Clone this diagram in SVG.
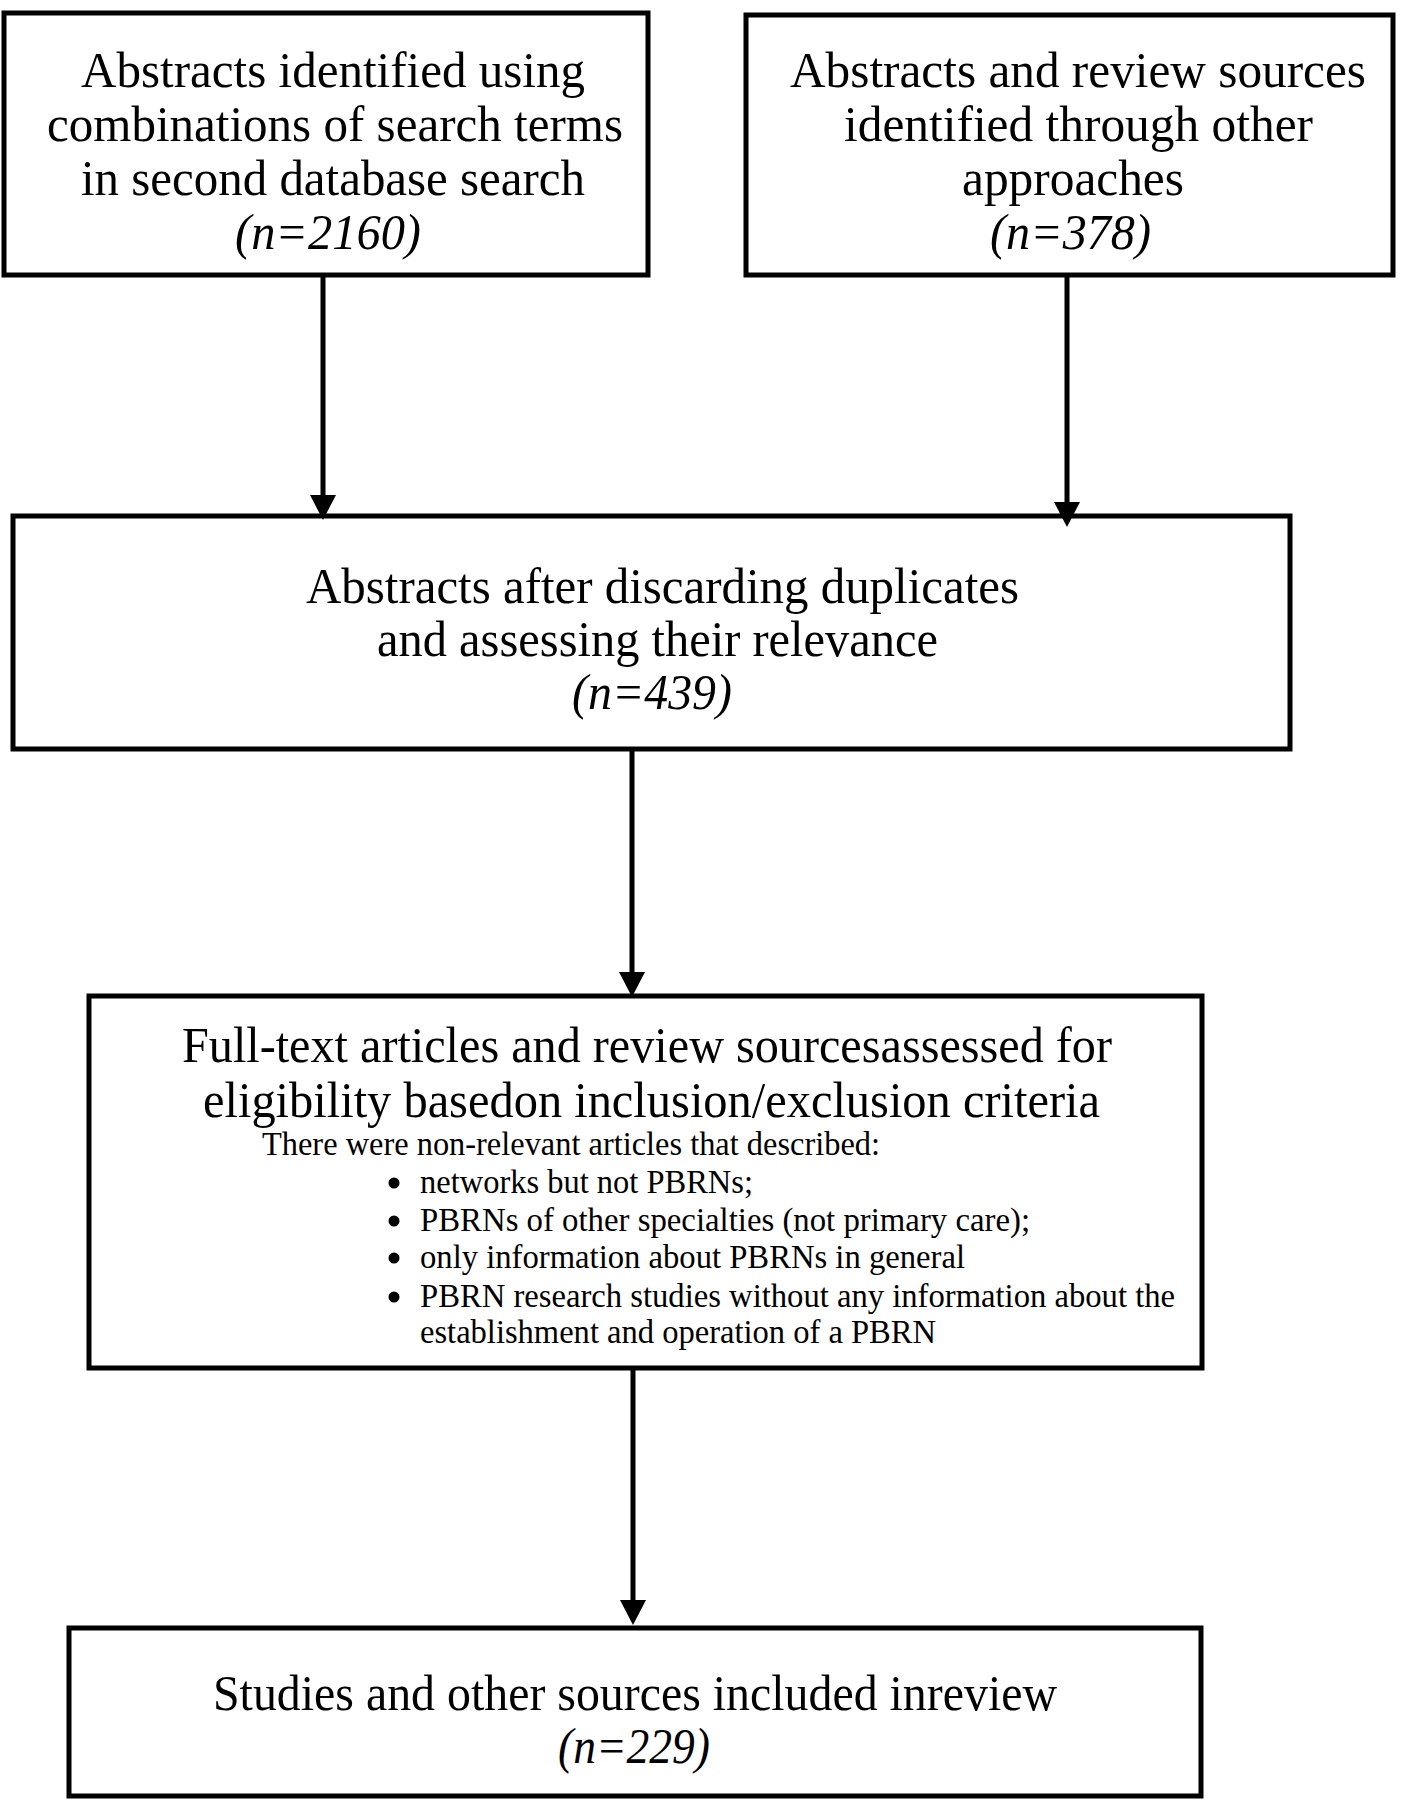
<svg xmlns="http://www.w3.org/2000/svg" width="1406" height="1800" viewBox="0 0 1406 1800">
<style>
.box{fill:#fff;stroke:#000;stroke-width:5}
.t{font-family:"Liberation Serif","Times New Roman",serif;font-size:50px;fill:#000}
.i{font-family:"Liberation Serif","Times New Roman",serif;font-size:50px;font-style:italic;fill:#000}
.s{font-family:"Liberation Serif","Times New Roman",serif;font-size:33px;fill:#000}
.ln{stroke:#000;stroke-width:5;fill:none}
</style>
<defs>
<polygon id="head" points="-13,0 13,0 0,25" fill="#000"/>
</defs>
<rect width="1406" height="1800" fill="#fff"/>
<g id="n1">
<rect class="box" x="4" y="13" width="644" height="262"/>
<text class="t" x="81" y="87" textLength="504" lengthAdjust="spacingAndGlyphs">Abstracts identified using</text>
<text class="t" x="47" y="141" textLength="576" lengthAdjust="spacingAndGlyphs">combinations of search terms</text>
<text class="t" x="81" y="195" textLength="504" lengthAdjust="spacingAndGlyphs">in second database search</text>
<text class="i" x="235" y="249" textLength="186" lengthAdjust="spacingAndGlyphs">(n=2160)</text>
</g>
<g id="n2">
<rect class="box" x="746" y="15" width="647" height="260"/>
<text class="t" x="790" y="87" textLength="576" lengthAdjust="spacingAndGlyphs">Abstracts and review  sources</text>
<text class="t" x="844" y="141" textLength="469" lengthAdjust="spacingAndGlyphs">identified  through other</text>
<text class="t" x="962" y="195" textLength="222" lengthAdjust="spacingAndGlyphs">approaches</text>
<text class="i" x="990" y="249" textLength="161" lengthAdjust="spacingAndGlyphs">(n=378)</text>
</g>
<g id="n3">
<rect class="box" x="13" y="516" width="1277" height="233"/>
<text class="t" x="306" y="603" textLength="713" lengthAdjust="spacingAndGlyphs">Abstracts after discarding duplicates</text>
<text class="t" x="377" y="656" textLength="561" lengthAdjust="spacingAndGlyphs">and assessing their relevance</text>
<text class="i" x="572" y="709" textLength="160" lengthAdjust="spacingAndGlyphs">(n=439)</text>
</g>
<g id="n4">
<rect class="box" x="89" y="996" width="1113" height="372"/>
<text class="t" x="182" y="1062" textLength="930" lengthAdjust="spacingAndGlyphs">Full-text articles and review  sourcesassessed for</text>
<text class="t" x="203" y="1117" textLength="897" lengthAdjust="spacingAndGlyphs">eligibility  basedon inclusion/exclusion criteria</text>
<text class="s" x="262" y="1155" textLength="618" lengthAdjust="spacingAndGlyphs">There were non-relevant articles that described:</text>
<circle cx="394" cy="1183" r="5.5"/>
<circle cx="394" cy="1221" r="5.5"/>
<circle cx="394" cy="1258" r="5.5"/>
<circle cx="394" cy="1297" r="5.5"/>
<text class="s" x="420" y="1193" textLength="333" lengthAdjust="spacingAndGlyphs">networks but not PBRNs;</text>
<text class="s" x="420" y="1231" textLength="610" lengthAdjust="spacingAndGlyphs">PBRNs of other specialties (not primary care);</text>
<text class="s" x="420" y="1268" textLength="545" lengthAdjust="spacingAndGlyphs">only information about PBRNs in general</text>
<text class="s" x="420" y="1307" textLength="755" lengthAdjust="spacingAndGlyphs">PBRN research studies without any information about the</text>
<text class="s" x="420" y="1343" textLength="516" lengthAdjust="spacingAndGlyphs">establishment and operation of a PBRN</text>
</g>
<g id="n5">
<rect class="box" x="69" y="1628" width="1132" height="168"/>
<text class="t" x="213" y="1710" textLength="844" lengthAdjust="spacingAndGlyphs">Studies and other sources included inreview</text>
<text class="i" x="558" y="1763" textLength="152" lengthAdjust="spacingAndGlyphs">(n=229)</text>
</g>
<g id="connectors">
<line class="ln" x1="323" y1="275" x2="323" y2="497"/>
<use href="#head" x="323" y="495"/>
<line class="ln" x1="1067" y1="275" x2="1067" y2="504"/>
<use href="#head" x="1067" y="502"/>
<line class="ln" x1="632" y1="750" x2="632" y2="975"/>
<use href="#head" x="632" y="972"/>
<line class="ln" x1="633" y1="1368" x2="633" y2="1602"/>
<use href="#head" x="633" y="1600"/>
</g>
</svg>
